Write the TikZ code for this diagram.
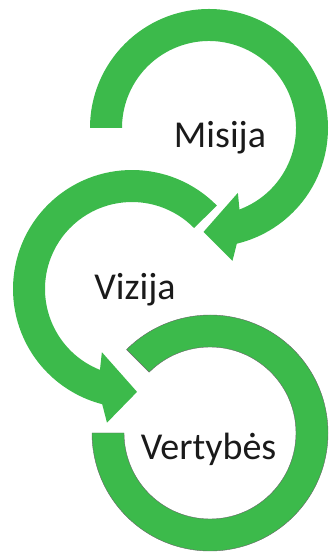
\documentclass[tikz,border=0pt]{standalone}
\usepackage{fontspec}
\setmainfont{Carlito}
\usetikzlibrary{calc}
\definecolor{arrowgreen}{RGB}{60,186,75}
\definecolor{labeltext}{RGB}{26,26,26}
\begin{document}
\begin{tikzpicture}[x=1pt,y=1pt,
  band/.style={fill=arrowgreen},
  lbl/.style={font=\fontsize{38}{40}\selectfont, text=labeltext, anchor=base, inner sep=0pt}]
\useasboundingbox (0,0) rectangle (330,554);
\coordinate (c1) at (209,426);
\coordinate (c2) at (132,265);
\coordinate (c3) at (210,121);
% top arrow (Misija)
\fill[band, shift={(c1)}] (180:119) arc[start angle=180, end angle=-76.5, radius=119]
  -- (-80:135) -- (-93:104) -- (-66:71) -- (-69.5:87)
  arc[start angle=-69.5, end angle=180, radius=87] -- cycle;
% middle arrow (Vizija)
\fill[band, shift={(c2)}] (44.5:119) arc[start angle=44.5, end angle=255.5, radius=119]
  -- (259.4:136) -- (272.8:103) -- (244.5:70) -- (248.4:87)
  arc[start angle=248.4, end angle=44.5, radius=87] -- cycle;
% bottom ring (Vertybes)
\filldraw[band, draw=black!60, line width=0.4pt, shift={(c3)}] (180:118)
  arc[start angle=180, end angle=495, radius=118] -- (495:86)
  arc[start angle=495, end angle=180, radius=86] -- cycle;
\node[lbl] (misija) at (220,406.7) {Misija};
\node[lbl] (vizija) at (135,254) {Vizija};
\node[lbl] (vertybes) at (208.5,94) {Vertybės};
\end{tikzpicture}
\end{document}
